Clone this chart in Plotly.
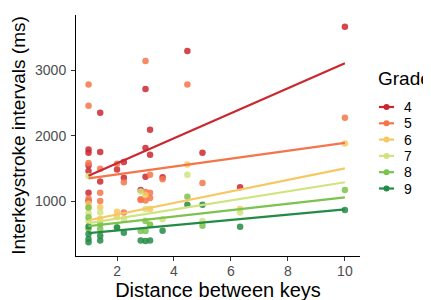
import plotly.graph_objects as go

grades = ["4", "5", "6", "7", "8", "9"]
colors = ["#cb2730", "#f4754a", "#f7c862", "#cfe47c", "#7cc24e", "#238b45"]

x4 = [10, 4.47, 3, 1.41, 3.16, 1, 1, 1, 1, 1.41, 1.41, 2, 2.24, 2.24, 3, 3.16, 3, 3.6, 2.83, 5, 6.32, 1, 1]
y4 = [3660, 3290, 2710, 2350, 2090, 1790, 1740, 1545, 1460, 1750, 1300, 1485, 1600, 1360, 1810, 1710, 1375, 1365, 1170, 1740, 1215, 1130, 1005]

x5 = [3, 1, 4.47, 1, 10, 1, 1.41, 2, 2.24, 3.16, 3.6, 5, 1, 1.41, 1.41, 2.83, 3, 3.16, 3, 2.83, 3.16, 2.24]
y5 = [3140, 2780, 2780, 2455, 2275, 1585, 1495, 1570, 1290, 1405, 1335, 1280, 1040, 1130, 1005, 1030, 1010, 1050, 1140, 1020, 1130, 830]

x6 = [10, 4.47, 1, 1.41, 1.41, 2, 3.16, 2, 6.32, 1, 3]
y6 = [1880, 1560, 900, 910, 730, 840, 880, 760, 880, 960, 1100]

x7 = [1, 4.47, 2.83, 1, 1.41, 2.24, 3, 3.6, 6.32, 5, 1, 3.16]
y7 = [1385, 1405, 1150, 820, 830, 730, 880, 725, 830, 700, 700, 640]

x8 = [10, 4.47, 1, 1, 1.41, 2, 3, 3.16, 1, 1.41, 3, 5, 2.83]
y8 = [1170, 1070, 905, 755, 650, 600, 700, 640, 575, 575, 545, 625, 545]

x9 = [10, 4.47, 5, 1, 1, 1, 1, 1.41, 1.41, 2.24, 2.83, 3, 3.16, 3.6, 6.32, 2]
y9 = [865, 945, 945, 615, 500, 425, 375, 475, 400, 520, 400, 395, 400, 550, 610, 600]

fit_x = [1, 10]
fit_start = [1390, 1350, 710, 665, 620, 515]
fit_end = [3105, 1890, 1500, 1290, 1060, 875]

xs = [x4, x5, x6, x7, x8, x9]
ys = [y4, y5, y6, y7, y8, y9]

fig = go.Figure()
for g, c, xv, yv in zip(grades, colors, xs, ys):
    fig.add_trace(go.Scatter(x=xv, y=yv, mode="markers", name=g, showlegend=False,
                             marker=dict(color=c, size=6.5, opacity=0.85, line=dict(width=0))))
for g, c, s, e in zip(grades, colors, fit_start, fit_end):
    fig.add_trace(go.Scatter(x=fit_x, y=[s, e], mode="lines", name=g, showlegend=False,
                             line=dict(color=c, width=2.2)))

# The page body has an 8px default margin, so the figure is offset by 8px.
OFF = 8
W, H = 431, 300
# desired plot area in page pixels: x 76..360, y 15..256
L, T = 76 - OFF, 15 - OFF
pw, ph = 284, 241
R = W - L - pw
B = H - T - ph

def px(x):
    return (x - OFF - L) / pw

def py(y):
    return (T + ph - (y - OFF)) / ph

font = "Liberation Sans, Arial, sans-serif"
fig.add_annotation(x=px(376), y=py(79), xref="paper", yref="paper", text="Grade",
                   showarrow=False, xanchor="left", yanchor="middle",
                   font=dict(size=19, color="#000", family=font))
for i, (g, c) in enumerate(zip(grades, colors)):
    yy = py(107 + 16.3 * i)
    fig.add_shape(type="line", xref="paper", yref="paper", x0=px(379), x1=px(394), y0=yy, y1=yy,
                  line=dict(color=c, width=2.2))
    fig.add_shape(type="circle", xref="paper", yref="paper", xsizemode="pixel", ysizemode="pixel",
                  xanchor=px(386.5), yanchor=yy, x0=-3, x1=3, y0=-3, y1=3,
                  fillcolor=c, line=dict(width=0))
    fig.add_annotation(x=px(402), y=yy, xref="paper", yref="paper", text=g, showarrow=False,
                       xanchor="left", yanchor="middle", font=dict(size=14, color="#000", family=font))

fig.update_layout(
    width=W, height=H,
    margin=dict(l=L, r=R, t=T, b=B, autoexpand=False),
    plot_bgcolor="white", paper_bgcolor="white",
    showlegend=False,
    font=dict(family=font, color="#000000"),
    xaxis=dict(range=[0.56, 10.53], tickvals=[2, 4, 6, 8, 10], showgrid=False, zeroline=False,
               showline=True, linecolor="#000", linewidth=1, automargin=False,
               ticks="outside", ticklen=4, tickcolor="#333", tickfont=dict(size=14, color="#4d4d4d"),
               ticklabelstandoff=-2,
               title=dict(text="Distance between keys", font=dict(size=20, color="#000"), standoff=0)),
    yaxis=dict(range=[165, 3840], tickvals=[1000, 2000, 3000], showgrid=False, zeroline=False,
               showline=True, linecolor="#000", linewidth=1, automargin=False,
               ticks="outside", ticklen=4, tickcolor="#333", tickfont=dict(size=14, color="#4d4d4d"),
               ticklabelstandoff=2,
               title=dict(text="Interkeystroke intervals (ms)", font=dict(size=19, color="#000"), standoff=6)),
)
fig.write_html("out.html")
